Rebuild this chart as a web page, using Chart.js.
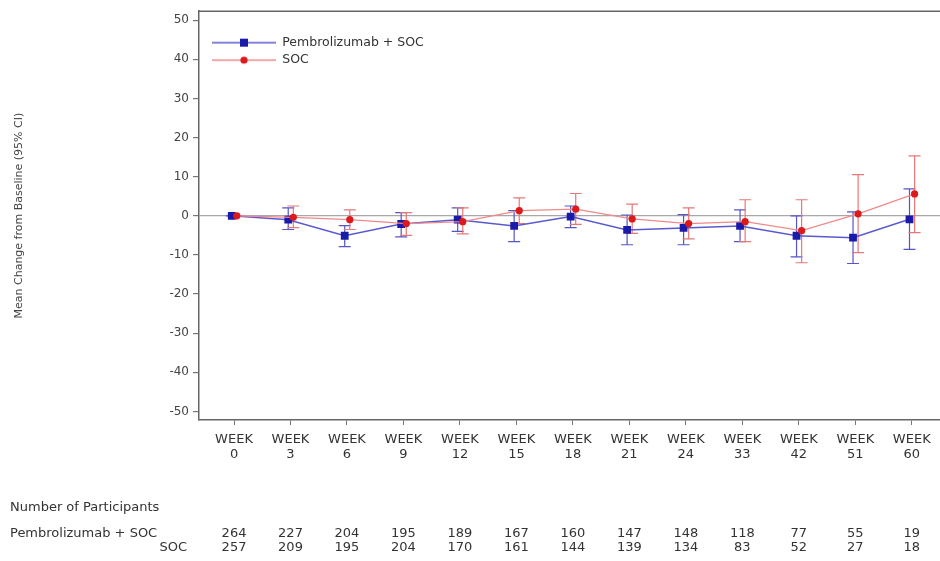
<!DOCTYPE html>
<html>
<head>
<meta charset="utf-8">
<script src="https://cdn.jsdelivr.net/npm/chart.js@4.4.0/dist/chart.umd.min.js"></script>
<style>
  body { margin: 0; background: #fff; }
  #wrap { width: 940px; height: 561px; }
</style>
</head>
<body>
<div id="wrap"><canvas id="chart" width="940" height="561"></canvas></div>
<script>
const weeks = [0, 3, 6, 9, 12, 15, 18, 21, 24, 33, 42, 51, 60];
const yTicks = [-50, -40, -30, -20, -10, 0, 10, 20, 30, 40, 50];

// mean change and 95% CI
const pembroMean = [0, -1.0, -5.1, -2.1, -1.0, -2.6, -0.2, -3.6, -3.1, -2.6, -5.1, -5.6, -0.9];
const pembroLow  = [0, -3.5, -7.9, -5.4, -4.0, -6.6, -3.0, -7.4, -7.4, -6.6, -10.5, -12.2, -8.6];
const pembroHigh = [0, 2.0, -2.5, 0.8, 2.0, 1.3, 2.5, 0.2, 0.3, 1.5, 0.0, 1.0, 6.9];

const socMean = [0, -0.4, -1.0, -2.0, -1.5, 1.3, 1.7, -0.8, -2.0, -1.5, -3.8, 0.5, 5.6];
const socLow  = [0, -3.0, -3.5, -5.0, -4.6, -2.0, -2.2, -4.5, -5.9, -6.6, -12.0, -9.4, -4.3];
const socHigh = [0, 2.5, 1.5, 0.8, 2.0, 4.6, 5.7, 3.0, 2.0, 4.1, 4.1, 10.5, 15.3];

// number of participants
const pembroN = [264, 227, 204, 195, 189, 167, 160, 147, 148, 118, 77, 55, 19];
const socN    = [257, 209, 195, 204, 170, 161, 144, 139, 134, 83, 52, 27, 18];

const FONT = "'DejaVu Sans', sans-serif";
Chart.defaults.font.family = FONT;

// legend swatch: line with the marker in the middle (left 8px kept empty)
function legendIcon(lineColor, markColor, square) {
  const c = document.createElement('canvas');
  c.width = 72; c.height = 12;
  const g = c.getContext('2d');
  g.strokeStyle = lineColor; g.lineWidth = 1.3;
  g.beginPath(); g.moveTo(8, 6); g.lineTo(72, 6); g.stroke();
  g.fillStyle = markColor;
  if (square) g.fillRect(36, 2, 8, 8);
  else { g.beginPath(); g.arc(40, 6, 3.6, 0, Math.PI * 2); g.fill(); }
  return c;
}
const icons = [legendIcon('#5a5ad0', '#1a1aa8', true), legendIcon('#f08a8a', '#dd1a1a', false)];

const errorBars = {
  id: 'errorBars',
  beforeDatasetsDraw(chart) {
    const {ctx, scales: {x, y}} = chart;
    chart.data.datasets.forEach(ds => {
      ctx.save();
      ctx.strokeStyle = ds.barColor;
      ctx.lineWidth = 1.2;
      ds.data.forEach((p, i) => {
        const px = x.getPixelForValue(p.x);
        const lo = y.getPixelForValue(ds.low[i]);
        const hi = y.getPixelForValue(ds.high[i]);
        ctx.beginPath();
        ctx.moveTo(px, lo); ctx.lineTo(px, hi);
        ctx.moveTo(px - 6, lo); ctx.lineTo(px + 6, lo);
        ctx.moveTo(px - 6, hi); ctx.lineTo(px + 6, hi);
        ctx.stroke();
      });
      ctx.restore();
    });
  }
};

const frameAndTable = {
  id: 'frameAndTable',
  afterDraw(chart) {
    const {ctx, chartArea: a, scales: {x}} = chart;
    ctx.save();
    ctx.strokeStyle = '#666'; ctx.lineWidth = 1.5;
    ctx.beginPath(); ctx.moveTo(a.left, a.top); ctx.lineTo(a.right, a.top); ctx.stroke();

    ctx.fillStyle = '#333';
    ctx.textBaseline = 'middle';
    ctx.font = '13px ' + FONT;
    ctx.textAlign = 'left';
    ctx.fillText('Number of Participants', 10, 508);
    ctx.fillText('Pembrolizumab + SOC', 10, 534);
    ctx.textAlign = 'right';
    ctx.fillText('SOC', 187, 548);
    ctx.textAlign = 'center';
    weeks.forEach((w, i) => {
      const px = x.getPixelForValue(i);
      ctx.fillText(String(pembroN[i]), px, 534);
      ctx.fillText(String(socN[i]), px, 548);
    });
    ctx.restore();
  }
};

new Chart(document.getElementById('chart'), {
  type: 'line',
  data: {
    datasets: [
      {
        label: 'Pembrolizumab + SOC',
        data: pembroMean.map((m, i) => ({x: i - 0.04, y: m})),
        low: pembroLow, high: pembroHigh, barColor: '#5555c8',
        borderColor: '#5a5ad0', borderWidth: 1.5,
        pointStyle: 'rect', pointRadius: 5.5, pointBackgroundColor: '#1a1aa8', pointBorderWidth: 0,
        order: 1
      },
      {
        label: 'SOC',
        data: socMean.map((m, i) => ({x: i + 0.05, y: m})),
        low: socLow, high: socHigh, barColor: '#e87878',
        borderColor: '#f08a8a', borderWidth: 1.3,
        pointStyle: 'circle', pointRadius: 3.6, pointBackgroundColor: '#dd1a1a', pointBorderWidth: 0,
        order: 0
      }
    ]
  },
  options: {
    responsive: false,
    animation: false,
    layout: { autoPadding: false, padding: { top: 10, left: 0, right: 0, bottom: 0 } },
    plugins: {
      tooltip: { enabled: false },
      legend: {
        position: 'chartArea',
        align: 'start',
        title: { display: true, text: ' ', padding: { top: 14, bottom: 3 }, font: { size: 12 } },
        labels: {
          usePointStyle: true,
          pointStyleWidth: 72,
          padding: 5,
          color: '#333',
          font: { size: 12.5 },
          generateLabels: chart => chart.data.datasets.map((ds, i) => ({
            text: ds.label, pointStyle: icons[i], datasetIndex: i, hidden: false,
            fontColor: '#333', lineWidth: 0, strokeStyle: 'rgba(0,0,0,0)', fillStyle: 'rgba(0,0,0,0)'
          }))
        }
      }
    },
    scales: {
      x: {
        type: 'linear',
        min: -0.62, max: 12.5,
        afterBuildTicks: s => { s.ticks = weeks.map((w, i) => ({ value: i })); },
        afterFit: s => { s.height = 141; s.paddingLeft = 0; s.paddingRight = 0; },
        ticks: {
          callback: v => ['WEEK', String(weeks[v])],
          color: '#333', font: { size: 13, lineHeight: 1.15 },
          padding: 7, maxRotation: 0, autoSkip: false
        },
        grid: { drawOnChartArea: false, drawTicks: true, tickLength: 5, tickColor: '#777' },
        border: { color: '#666', width: 1.5 }
      },
      y: {
        min: -52.2, max: 52.3,
        afterBuildTicks: s => { s.ticks = yTicks.map(v => ({ value: v })); },
        afterFit: s => { s.width = 199; },
        ticks: { color: '#444', font: { size: 12 }, padding: 4 },
        grid: {
          color: c => (c.tick && c.tick.value === 0) ? '#a8a8a8' : 'rgba(0,0,0,0)',
          tickColor: '#777', tickLength: 6, lineWidth: 1.2
        },
        border: { color: '#666', width: 1.5 },
        title: {
          display: true, text: 'Mean Change from Baseline (95% CI)',
          color: '#444', font: { size: 11 }, padding: { top: 13 }
        }
      }
    }
  },
  plugins: [errorBars, frameAndTable]
});
</script>
</body>
</html>
